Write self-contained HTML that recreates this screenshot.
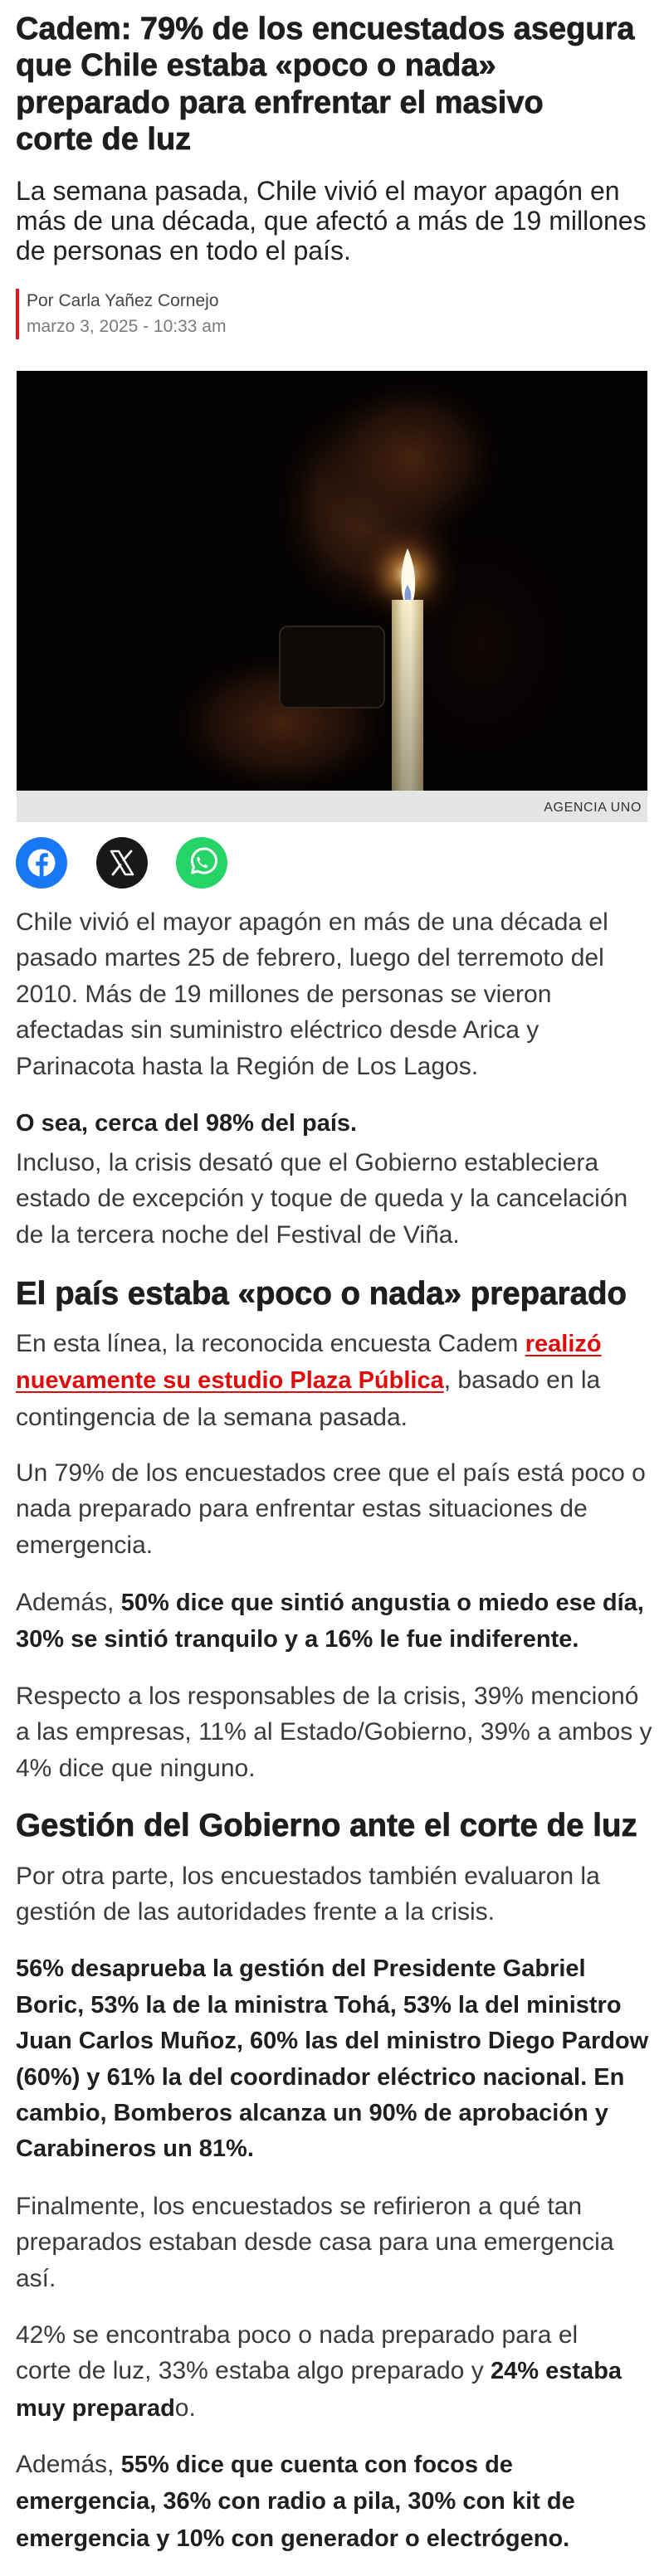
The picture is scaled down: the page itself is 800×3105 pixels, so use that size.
<!DOCTYPE html>
<html lang="es">
<head>
<meta charset="utf-8">
<style>
  html,body{margin:0;padding:0;background:#fff;}
  body{width:800px;height:3105px;position:relative;overflow:hidden;font-family:"Liberation Sans",Arial,sans-serif;}
  .a{position:absolute;left:19px;white-space:nowrap;}
  .ttl{font-weight:bold;font-size:38px;line-height:44.3px;color:#1d1e20;top:13.2px;-webkit-text-stroke:0.7px #1d1e20;}
  .sub{font-size:32px;line-height:36px;color:#222;top:211.9px;}
  .by{font-size:21px;line-height:30px;left:32px;}
  .bar{position:absolute;left:19px;top:348px;width:4px;height:61px;background:#e3141b;}
  .p{font-size:30px;line-height:43.4px;color:#3a3a3a;}
  .p b{font-size:29px;color:#1f1f1f;}
  .pb{font-size:29px;line-height:43.4px;font-weight:bold;color:#1f1f1f;}
  .h2{font-weight:bold;font-size:38.5px;line-height:46px;color:#1d1e20;-webkit-text-stroke:0.7px #1d1e20;}
  a{color:#e00b0b;font-weight:bold;text-decoration:underline;text-decoration-thickness:2px;text-underline-offset:4px;font-size:29px;}
  .photo{position:absolute;left:20px;top:447px;width:760px;height:506px;}
  .cap{position:absolute;left:20px;top:953px;width:760px;height:38px;background:#e5e5e5;}
  .cap span{position:absolute;right:7px;top:10.5px;font-size:16px;line-height:20px;color:#333;letter-spacing:0.6px;}
  .ic{position:absolute;top:1009px;width:62px;height:62px;}
</style>
</head>
<body>

<div class="a ttl">Cadem: 79% de los encuestados asegura<br>que Chile estaba «poco o nada»<br>preparado para enfrentar el masivo<br>corte de luz</div>

<div class="a sub">La semana pasada, Chile vivió el mayor apagón en<br>más de una década, que afectó a más de 19 millones<br>de personas en todo el país.</div>

<div class="bar"></div>
<div class="a by" style="top:347.7px;color:#444;">Por Carla Yañez Cornejo</div>
<div class="a by" style="top:378.7px;color:#7a7a7a;">marzo 3, 2025 - 10:33 am</div>

<svg class="photo" viewBox="0 0 760 506" xmlns="http://www.w3.org/2000/svg">
  <defs>
    <radialGradient id="face" cx="0.5" cy="0.5" r="0.5">
      <stop offset="0" stop-color="#4a2714" stop-opacity="1"/>
      <stop offset="0.55" stop-color="#2c150b" stop-opacity="0.85"/>
      <stop offset="1" stop-color="#050302" stop-opacity="0"/>
    </radialGradient>
    <radialGradient id="hand" cx="0.5" cy="0.5" r="0.5">
      <stop offset="0" stop-color="#45220f" stop-opacity="1"/>
      <stop offset="0.6" stop-color="#27120a" stop-opacity="0.75"/>
      <stop offset="1" stop-color="#050302" stop-opacity="0"/>
    </radialGradient>
    <radialGradient id="shoulder" cx="0.5" cy="0.5" r="0.5">
      <stop offset="0" stop-color="#120806" stop-opacity="0.9"/>
      <stop offset="1" stop-color="#040202" stop-opacity="0"/>
    </radialGradient>
    <radialGradient id="glow" cx="0.5" cy="0.5" r="0.5">
      <stop offset="0" stop-color="#fff3c8" stop-opacity="0.95"/>
      <stop offset="0.25" stop-color="#f0a040" stop-opacity="0.55"/>
      <stop offset="0.6" stop-color="#6a3010" stop-opacity="0.25"/>
      <stop offset="1" stop-color="#000" stop-opacity="0"/>
    </radialGradient>
    <linearGradient id="candle" x1="0" y1="0" x2="1" y2="0">
      <stop offset="0" stop-color="#b9a775"/>
      <stop offset="0.35" stop-color="#f4ebc4"/>
      <stop offset="0.6" stop-color="#fbf3d4"/>
      <stop offset="1" stop-color="#c8b27c"/>
    </linearGradient>
    <linearGradient id="candleV" x1="0" y1="0" x2="0" y2="1">
      <stop offset="0" stop-color="#000" stop-opacity="0"/>
      <stop offset="1" stop-color="#000" stop-opacity="0.35"/>
    </linearGradient>
  </defs>
  <rect width="760" height="506" fill="#040202"/>
  <ellipse cx="560" cy="330" rx="150" ry="190" fill="url(#shoulder)"/>
  <ellipse cx="425" cy="165" rx="120" ry="140" fill="url(#face)"/>
  <ellipse cx="475" cy="105" rx="115" ry="100" fill="url(#hand)"/>
  <ellipse cx="320" cy="425" rx="140" ry="90" fill="url(#hand)"/>
  <rect x="317" y="308" width="126" height="98" rx="10" fill="#0f0a07" stroke="#2e241c" stroke-width="2"/>
  <ellipse cx="470" cy="245" rx="70" ry="70" fill="url(#glow)"/>
  <rect x="452" y="276" width="38" height="230" fill="url(#candle)"/>
  <rect x="452" y="276" width="38" height="230" fill="url(#candleV)"/>
  <path d="M471 214 C462 235 462 262 466 276 L478 276 C482 262 481 236 471 214 Z" fill="#fffbe8"/>
  <path d="M471 258 C467 264 467 272 468 276 L475 276 C476 270 475 264 471 258 Z" fill="#4a6fd0" opacity="0.7"/>
</svg>
<div class="cap"><span>AGENCIA UNO</span></div>

<!-- social icons -->
<svg class="ic" style="left:19px;" viewBox="0 0 62 62" xmlns="http://www.w3.org/2000/svg">
  <circle cx="31" cy="31" r="31" fill="#1877f2"/>
  <circle cx="31" cy="31" r="16.5" fill="#fff"/>
  <path d="M33.5 48 V34.5 H38 L38.7 29.5 H33.5 V26.5 C33.5 25 34.1 24 36.2 24 H38.9 V19.6 C38.2 19.5 36.8 19.3 35.2 19.3 C31.3 19.3 28.7 21.6 28.7 25.9 V29.5 H24.3 V34.5 H28.7 V48 Z" fill="#1877f2"/>
</svg>
<svg class="ic" style="left:116px;" viewBox="0 0 62 62" xmlns="http://www.w3.org/2000/svg">
  <circle cx="31" cy="31" r="31" fill="#17181a"/>
  <path d="M18 17 H27 L44 45 H35 Z" fill="none" stroke="#fff" stroke-width="2.6" stroke-linejoin="round"/>
  <path d="M42 17 L33 27.5 M29 33.5 L20 45" stroke="#fff" stroke-width="2.8" stroke-linecap="round"/>
</svg>
<svg class="ic" style="left:212px;" viewBox="0 0 62 62" xmlns="http://www.w3.org/2000/svg">
  <circle cx="31" cy="31" r="31" fill="#25d366"/>
  <path d="M19.5 43 L21.5 36 A14.5 14.5 0 1 1 26.5 41 Z" fill="none" stroke="#fff" stroke-width="3" stroke-linejoin="round"/>
  <path d="M25.5 24.5 C25 26.5 26 30 29 33 C32 36 35.5 37.5 37.5 37 L38.5 34.5 L35 32.8 L33.5 34.3 C31.5 33.3 29 31 28 29 L29.5 27.3 L27.8 23.8 Z" fill="#fff"/>
</svg>

<div class="a p" style="top:1089.9px;">Chile vivió el mayor apagón en más de una década el<br>pasado martes 25 de febrero, luego del terremoto del<br>2010. Más de 19 millones de personas se vieron<br>afectadas sin suministro eléctrico desde Arica y<br>Parinacota hasta la Región de Los Lagos.</div>

<div class="a pb" style="top:1333.3px;">O sea, cerca del 98% del país.</div>

<div class="a p" style="top:1379.9px;">Incluso, la crisis desató que el Gobierno estableciera<br>estado de excepción y toque de queda y la cancelación<br>de la tercera noche del Festival de Viña.</div>

<div class="a h2" style="top:1536.7px;">El país estaba «poco o nada» preparado</div>

<div class="a p" style="top:1597.9px;">En esta línea, la reconocida encuesta Cadem <a>realizó</a><br><a>nuevamente su estudio Plaza Pública</a>, basado en la<br>contingencia de la semana pasada.</div>

<div class="a p" style="top:1753.9px;">Un 79% de los encuestados cree que el país está poco o<br>nada preparado para enfrentar estas situaciones de<br>emergencia.</div>

<div class="a p" style="top:1909.9px;">Además, <b>50% dice que sintió angustia o miedo ese día,</b><br><b>30% se sintió tranquilo y a 16% le fue indiferente.</b></div>

<div class="a p" style="top:2022.9px;">Respecto a los responsables de la crisis, 39% mencionó<br>a las empresas, 11% al Estado/Gobierno, 39% a ambos y<br>4% dice que ninguno.</div>

<div class="a h2" style="top:2177.7px;">Gestión del Gobierno ante el corte de luz</div>

<div class="a p" style="top:2239.9px;">Por otra parte, los encuestados también evaluaron la<br>gestión de las autoridades frente a la crisis.</div>

<div class="a pb" style="top:2352.3px;">56% desaprueba la gestión del Presidente Gabriel<br>Boric, 53% la de la ministra Tohá, 53% la del ministro<br>Juan Carlos Muñoz, 60% las del ministro Diego Pardow<br>(60%) y 61% la del coordinador eléctrico nacional. En<br>cambio, Bomberos alcanza un 90% de aprobación y<br>Carabineros un 81%.</div>

<div class="a p" style="top:2637.9px;">Finalmente, los encuestados se refirieron a qué tan<br>preparados estaban desde casa para una emergencia<br>así.</div>

<div class="a p" style="top:2792.9px;">42% se encontraba poco o nada preparado para el<br>corte de luz, 33% estaba algo preparado y <b>24% estaba</b><br><b>muy preparad</b>o.</div>

<div class="a p" style="top:2948.9px;">Además, <b>55% dice que cuenta con focos de</b><br><b>emergencia, 36% con radio a pila, 30% con kit de</b><br><b>emergencia y 10% con generador o electrógeno.</b></div>

</body>
</html>
